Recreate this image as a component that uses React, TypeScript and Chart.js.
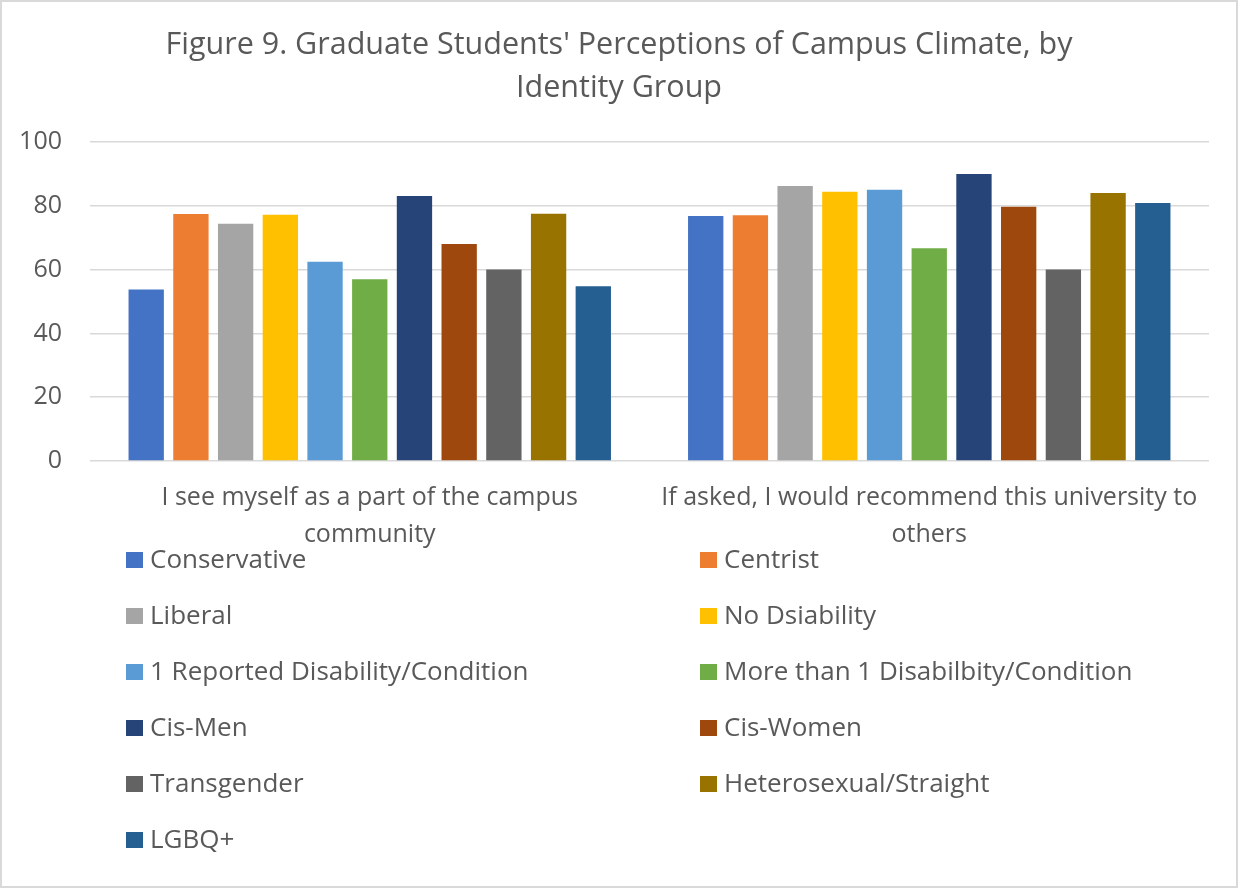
import React, { useEffect, useRef } from "react";
import { Chart, registerables } from "chart.js";

Chart.register(...registerables);

const titleLines = [
  "Figure 9. Graduate Students' Perceptions of Campus Climate, by",
  "Identity Group",
];

const categories = [
  ["I see myself as a part of the campus", "community"],
  ["If asked, I would recommend this university to", "others"],
];

const yTicks = [0, 20, 40, 60, 80, 100];

const seriesNames = [
  "Conservative",
  "Centrist",
  "Liberal",
  "No Dsiability",
  "1 Reported Disability/Condition",
  "More than 1 Disabilbity/Condition",
  "Cis-Men",
  "Cis-Women",
  "Transgender",
  "Heterosexual/Straight",
  "LGBQ+",
];

const seriesColors = [
  "#4472C4",
  "#ED7D31",
  "#A5A5A5",
  "#FFC000",
  "#5B9BD5",
  "#70AD47",
  "#264478",
  "#9E480E",
  "#636363",
  "#997300",
  "#255E91",
];

const conservative = [53.8, 76.8];
const centrist = [77.4, 77.0];
const liberal = [74.4, 86.2];
const noDisability = [77.2, 84.4];
const oneDisability = [62.5, 85.0];
const multiDisability = [57.0, 66.7];
const cisMen = [83.1, 90.0];
const cisWomen = [68.0, 79.7];
const transgender = [60.0, 60.0];
const heterosexual = [77.5, 84.0];
const lgbq = [54.8, 80.9];

const seriesValues = [
  conservative,
  centrist,
  liberal,
  noDisability,
  oneDisability,
  multiDisability,
  cisMen,
  cisWomen,
  transgender,
  heterosexual,
  lgbq,
];

const TEXT = "#595959";
const GRID = "#d9d9d9";
const FONT = '"Open Sans", sans-serif';

const gridLegend = {
  id: "gridLegend",
  afterDraw(chart: any) {
    const ctx = chart.ctx;
    const area = chart.chartArea;
    ctx.save();
    ctx.font = `26px ${FONT}`;
    ctx.textBaseline = "middle";
    ctx.textAlign = "left";
    chart.data.datasets.forEach((ds: any, i: number) => {
      const row = Math.floor(i / 2);
      const col = i % 2;
      const x = col === 0 ? area.left + 36 : area.left + 610;
      const y = area.bottom + 99 + row * 56;
      ctx.fillStyle = ds.backgroundColor;
      ctx.fillRect(x, y - 8, 17, 16);
      ctx.fillStyle = TEXT;
      ctx.fillText(ds.label, x + 24, y + 1);
    });
    ctx.restore();
  },
};

const frame = {
  id: "frame",
  afterDraw(chart: any) {
    const ctx = chart.ctx;
    ctx.save();
    ctx.strokeStyle = GRID;
    ctx.lineWidth = 2;
    ctx.strokeRect(1, 1, chart.width - 2, chart.height - 2);
    ctx.restore();
  },
};

export default function App() {
  const ref = useRef<HTMLCanvasElement | null>(null);

  useEffect(() => {
    document.body.style.margin = "0";
    const canvas = ref.current;
    if (!canvas) return;
    Chart.defaults.font.family = FONT;
    Chart.defaults.color = TEXT;

    const chart = new Chart(canvas, {
      type: "bar",
      data: {
        labels: categories as any,
        datasets: seriesNames.map((name, i) => ({
          label: name,
          data: seriesValues[i],
          backgroundColor: seriesColors[i],
          borderWidth: 0,
          categoryPercentage: 0.879,
          barPercentage: 0.79,
        })),
      },
      options: {
        responsive: false,
        animation: false,
        layout: { padding: { top: 0, left: 0, right: 0, bottom: 337 } },
        plugins: {
          legend: { display: false },
          tooltip: { enabled: false },
          title: {
            display: true,
            text: titleLines,
            color: TEXT,
            font: { size: 30.5, weight: "normal", family: FONT, lineHeight: 1.4 },
            padding: { top: 24, bottom: 32.6 },
          },
        },
        scales: {
          x: {
            grid: { display: false, drawTicks: false },
            border: { display: false },
            ticks: {
              color: TEXT,
              font: { size: 25, family: FONT, lineHeight: 1.45 },
              padding: 19,
              maxRotation: 0,
              autoSkip: false,
            },
            afterFit(scale: any) {
              scale.height = 90;
            },
          },
          y: {
            min: 0,
            max: 100,
            afterBuildTicks(scale: any) {
              scale.ticks = yTicks.map((v) => ({ value: v }));
            },
            grid: { color: GRID, lineWidth: 1.5, drawTicks: false },
            border: { display: false },
            ticks: {
              color: TEXT,
              font: { size: 25, family: FONT },
              padding: 28,
            },
            afterFit(scale: any) {
              scale.width = 90;
            },
          },
          yRight: {
            position: "right",
            min: 0,
            max: 100,
            grid: { display: false, drawTicks: false },
            border: { display: false },
            ticks: { display: false },
            afterFit(scale: any) {
              scale.width = 29;
            },
          },
        },
      },
      plugins: [gridLegend, frame],
    } as any);

    return () => chart.destroy();
  }, []);

  return (
    <div style={{ width: 1238, height: 888, background: "#fff" }}>
      <canvas ref={ref} width={1238} height={888} />
    </div>
  );
}
